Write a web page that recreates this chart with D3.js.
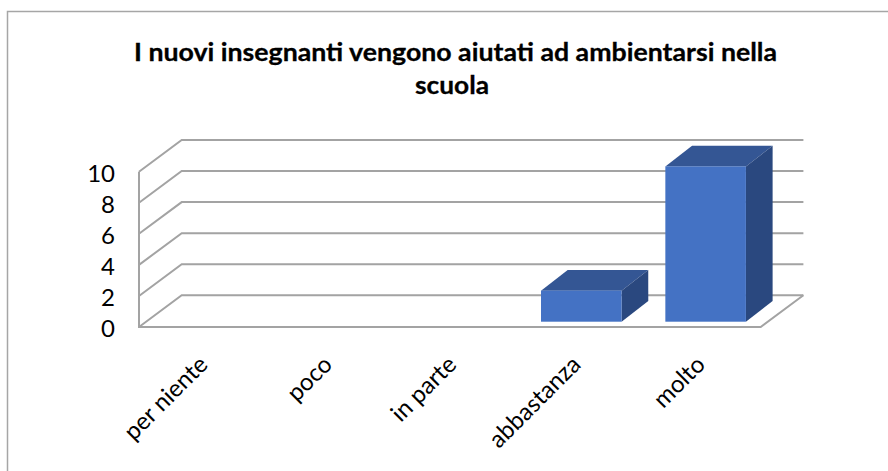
<!DOCTYPE html>
<html><head><meta charset="utf-8">
<script src="https://cdn.jsdelivr.net/npm/d3@7"></script>
<style>html,body{margin:0;padding:0;background:#fff}svg{display:block}text{font-family:Lato,"Open Sans",sans-serif;fill:#000}</style>
</head><body><div id="c"></div>
<script>
const titleLines = ["I nuovi insegnanti vengono aiutati ad ambientarsi nella", "scuola"];
const titleWidths = [643, 74];
const categories = ["per niente", "poco", "in parte", "abbastanza", "molto"];
const values = [0, 0, 0, 2, 10];
const yTicks = [0, 2, 4, 6, 8, 10];

const W = 888, H = 471;
const svg = d3.select("#c").append("svg").attr("width", W).attr("height", H);
const grid = "#a3a3a3";

// frame
svg.append("path").attr("d", `M7.5,${H}V11.5H${W}`).attr("fill", "none").attr("stroke", "#a6a6a6").attr("stroke-width", 1.5);

// title
svg.selectAll("text.title").data(titleLines).join("text").attr("class", "title")
  .attr("x", (d, i) => i === 0 ? 455.5 : 452).attr("y", (d, i) => 61 + i * 33)
  .attr("text-anchor", "middle").attr("font-size", 25).attr("font-weight", 700)
  .attr("textLength", (d, i) => titleWidths[i])
  .attr("lengthAdjust", "spacingAndGlyphs")
  .style("stroke", "#000").style("stroke-width", 0.3)
  .text(d => d);

const x = d3.scaleBand().domain(categories).range([139, 760.7]).paddingInner(0.352).paddingOuter(0.176);
const y = d3.scaleLinear().domain([0, 10]).range([327, 171.7]);
const wallDx = 42.7, wallDy = -31.7;      // depth of the chart box
const barShiftX = 7.1, barShiftY = -5.3;  // bars stand inside the box
const barDx = 26.7, barDy = -20.7;        // depth of a bar

const g = svg.append("g");
yTicks.forEach(t => {
  const y0 = y(t), x0 = x.range()[0], x1 = x.range()[1];
  g.append("path").attr("fill", "none").attr("stroke", grid).attr("stroke-width", 2)
    .attr("d", `M${x0},${y0}L${x0 + wallDx},${y0 + wallDy}H${x1 + wallDx}`);
});
g.append("path").attr("fill", "none").attr("stroke", grid).attr("stroke-width", 2)
  .attr("d", `M${x.range()[0]},${y(10)}V${y(0)}H${x.range()[1]}L${x.range()[1] + wallDx},${y(0) + wallDy}`);

// bars
const bars = svg.append("g").selectAll("g").data(categories.map((c, i) => ({c, v: values[i]})).filter(d => d.v > 0)).join("g");
const xl = d => x(d.c) + barShiftX, xr = d => xl(d) + x.bandwidth();
const yb = barShiftY + y(0), yt = d => y(d.v) + barShiftY;
bars.append("path").attr("fill", "#345694")
  .attr("d", d => `M${xl(d)},${yt(d)}l${barDx},${barDy}H${xr(d) + barDx}L${xr(d)},${yt(d)}Z`);
bars.append("path").attr("fill", "#2a487f")
  .attr("d", d => `M${xr(d)},${yt(d)}l${barDx},${barDy}V${yb + barDy}L${xr(d)},${yb}Z`);
bars.append("rect").attr("fill", "#4472c4")
  .attr("x", xl).attr("y", yt).attr("width", x.bandwidth()).attr("height", d => yb - yt(d));

// y axis labels
svg.selectAll("text.yt").data(yTicks).join("text").attr("class", "yt")
  .attr("x", 115).attr("y", d => y(d) + 10)
  .attr("text-anchor", "end").attr("font-size", 24).text(d => d);

// x axis labels
svg.selectAll("text.xt").data(categories).join("text").attr("class", "xt")
  .attr("text-anchor", "end").attr("font-size", 24)
  .attr("transform", d => `translate(${x(d) + x.bandwidth() / 2 + 8},366) rotate(-45)`)
  .text(d => d);
</script></body></html>
